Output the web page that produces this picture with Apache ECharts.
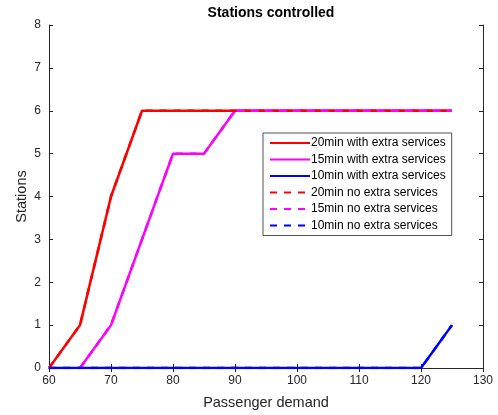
<!DOCTYPE html>
<html><head><meta charset="utf-8">
<script src="https://cdn.jsdelivr.net/npm/echarts@6/dist/echarts.min.js"></script>
<style>html,body{margin:0;padding:0;background:#fff}#c{width:498px;height:415px}</style>
</head><body><div id="c"></div>
<script>
const demand = [60, 65, 70, 75, 80, 85, 90, 95, 100, 105, 110, 115, 120, 125];
const min20Extra = [0, 1, 4, 6, 6, 6, 6, 6, 6, 6, 6, 6, 6, 6];
const min15Extra = [null, 0, 1, 3, 5, 5, 6, 6, 6, 6, 6, 6, 6, 6];
const min10Extra = [0, 0, 0, 0, 0, 0, 0, 0, 0, 0, 0, 0, 0, 1];
const min20NoExtra = [0, 1, 4, 6, 6, 6, 6, 6, 6, 6, 6, 6, 6, 6];
const min15NoExtra = [null, 0, 1, 3, 5, 5, 6, 6, 6, 6, 6, 6, 6, 6];
const min10NoExtra = [0, 0, 0, 0, 0, 0, 0, 0, 0, 0, 0, 0, 0, 1];
const names = ['20min with extra services','15min with extra services','10min with extra services','20min no extra services','15min no extra services','10min no extra services'];

function pairs(arr){ const out=[]; demand.forEach((x,i)=>{ if(arr[i]!==null) out.push([x,arr[i]]); }); return out; }
const ax = '#262626';
const font = 'Helvetica, Arial, "Liberation Sans", sans-serif';
function mk(name, data, color, type){
  return {name, type:'line', data:pairs(data), symbol:'none', xAxisIndex:0, yAxisIndex:0,
    lineStyle:{color, width:2.5, type: type==='dashed'?[7,7]:'solid'}, itemStyle:{color}, animation:false};
}
const chart = echarts.init(document.getElementById('c'));
const axisCommon = {axisLine:{show:true,lineStyle:{color:ax,width:1}}, axisTick:{inside:true,length:4,lineStyle:{color:ax}}, splitLine:{show:false}};
chart.setOption({
  animation:false,
  title:{text:'Stations controlled', left:266, top:1, textAlign:'center', textStyle:{fontFamily:font, fontSize:14, fontWeight:'bold', color:'#000'}},
  grid:{left:49, right:15, top:25, bottom:47},
  legend:{orient:'vertical', left:263, top:133, itemWidth:40, itemHeight:12, itemGap:4.5,
    backgroundColor:'#fff', borderColor:ax, borderWidth:0.8, padding:[4,6,4,6],
    itemStyle:{opacity:0},
    textStyle:{fontFamily:font, fontSize:12, color:'#000', padding:[0,0,0,-4]}, data:names},
  xAxis:[
    Object.assign({type:'value', min:60, max:130, interval:10, position:'bottom',
      name:'Passenger demand', nameLocation:'middle', nameGap:27, nameMoveOverlap:false, nameTextStyle:{fontFamily:font, fontSize:14.5, color:ax},
      axisLabel:{fontFamily:font, fontSize:12, color:ax, margin:7}}, axisCommon),
    Object.assign({type:'value', min:60, max:130, interval:10, position:'top', axisLabel:{show:false}}, axisCommon)
  ],
  yAxis:[
    Object.assign({type:'value', min:0, max:8, interval:1, position:'left',
      name:'Stations', nameLocation:'middle', nameGap:20, nameMoveOverlap:false, nameTextStyle:{fontFamily:font, fontSize:14.5, color:ax},
      axisLabel:{fontFamily:font, fontSize:12, color:ax, margin:8}}, axisCommon),
    Object.assign({type:'value', min:0, max:8, interval:1, position:'right', axisLabel:{show:false}}, axisCommon)
  ],
  series:[
    mk(names[0], min20Extra, '#ff0000','solid'),
    mk(names[1], min15Extra, '#ff00ff','solid'),
    mk(names[2], min10Extra, '#0000ff','solid'),
    mk(names[3], min20NoExtra, '#ff0000','dashed'),
    mk(names[4], min15NoExtra, '#ff00ff','dashed'),
    mk(names[5], min10NoExtra, '#0000ff','dashed')
  ]
});
</script></body></html>
